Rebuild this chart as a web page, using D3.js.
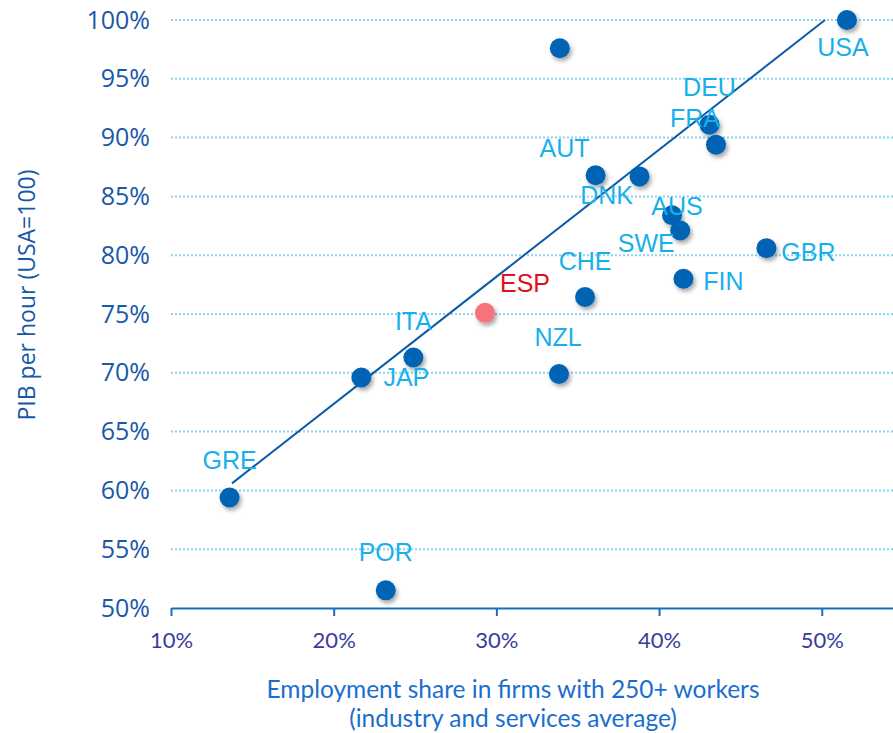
<!DOCTYPE html>
<html>
<head>
<meta charset="utf-8">
<script src="https://cdn.jsdelivr.net/npm/d3@7"></script>
<style>
  body { margin: 0; background: #fff; }
  svg { display: block; }
</style>
</head>
<body>
<div id="chart"></div>
<script>
// countries, employment share in big firms (%), productivity (USA=100)
const countries = ["USA", "—", "DEU", "FRA", "AUT", "DNK", "AUS", "SWE", "GBR", "FIN", "CHE", "ESP", "ITA", "JAP", "NZL", "GRE", "POR"]
const share     = [51.55, 33.9, 43.1, 43.5, 36.1, 38.8, 40.8, 41.3, 46.6, 41.5, 35.45, 29.3, 24.9, 21.7, 33.85, 13.6, 23.2]
const pib       = [100, 97.6, 91.1, 89.4, 86.8, 86.7, 83.4, 82.1, 80.6, 78.0, 76.45, 75.1, 71.3, 69.6, 69.9, 59.4, 51.5]

// fitted line, two ends
const trendX = [13.75, 50.2]
const trendY = [60.6, 100]

const xTicks = [10, 20, 30, 40, 50]
const yTicks = [50, 55, 60, 65, 70, 75, 80, 85, 90, 95, 100]

// where each label sits relative to its dot
const labelOffset = {
  USA: [-4, 27], DEU: [0, -38], FRA: [-21, -27], AUT: [-31, -27], DNK: [-33, 19],
  AUS: [5, -9], SWE: [-34, 12], GBR: [42, 4], FIN: [40, 2], CHE: [0, -36],
  ESP: [40, -30], ITA: [0, -37], JAP: [45, -1], NZL: [-1, -37], GRE: [0, -37], POR: [0, -38]
}

const W = 893, H = 733
const svg = d3.select("#chart").append("svg").attr("width", W).attr("height", H)

const defs = svg.append("defs")
const shadow = defs.append("filter").attr("id", "shadow")
  .attr("x", "-50%").attr("y", "-50%").attr("width", "200%").attr("height", "200%")
shadow.append("feDropShadow")
  .attr("dx", 2).attr("dy", 3).attr("stdDeviation", 2)
  .attr("flood-color", "#000").attr("flood-opacity", 0.35)

const x = d3.scaleLinear().domain([10, 54.38]).range([171, 893])
const y = d3.scaleLinear().domain([50, 100]).range([608, 20])

// dotted gridlines
svg.append("g").selectAll("line")
  .data(yTicks.filter(d => d > 50))
  .join("line")
  .attr("x1", 171).attr("x2", W)
  .attr("y1", d => y(d)).attr("y2", d => y(d))
  .attr("stroke", "#86d3f2").attr("stroke-width", 2)
  .attr("stroke-dasharray", "2,2")

// x axis
const xAxis = svg.append("g")
  .attr("transform", `translate(0,${y(50)})`)
  .call(d3.axisBottom(x).tickValues(xTicks).tickFormat(d => d + "%").tickSizeInner(8).tickSizeOuter(0).tickPadding(16))
xAxis.select(".domain").attr("stroke", "#1a6cc0").attr("stroke-width", 2)
xAxis.selectAll(".tick line").attr("stroke", "#1a6cc0").attr("stroke-width", 2)
xAxis.selectAll(".tick text")
  .attr("fill", "#3b3b9b").style("font-family", "Lato, sans-serif").style("font-size", "22px")

// y axis labels only
const yAxis = svg.append("g")
  .attr("transform", "translate(171,0)")
  .call(d3.axisLeft(y).tickValues(yTicks).tickFormat(d => d + "%").tickSize(0).tickPadding(21))
yAxis.select(".domain").remove()
yAxis.selectAll(".tick text")
  .attr("fill", "#1a58a8").style("font-family", "'Open Sans', sans-serif").style("font-size", "25px")

// trend line
svg.append("line")
  .attr("x1", x(trendX[0])).attr("y1", y(trendY[0]))
  .attr("x2", x(trendX[1])).attr("y2", y(trendY[1]))
  .attr("stroke", "#0a5aa8").attr("stroke-width", 2)

const pts = countries.map((c, i) => ({c, x: share[i], y: pib[i]}))

svg.append("g").selectAll("circle")
  .data(pts)
  .join("circle")
  .attr("cx", d => x(d.x)).attr("cy", d => y(d.y)).attr("r", 10)
  .attr("fill", d => d.c == "ESP" ? "#f7727a" : "#0563b4")
  .attr("filter", "url(#shadow)")

svg.append("g").selectAll("text")
  .data(pts.filter(d => labelOffset[d.c]))
  .join("text")
  .attr("x", d => x(d.x) + labelOffset[d.c][0])
  .attr("y", d => y(d.y) + labelOffset[d.c][1])
  .attr("text-anchor", "middle").attr("dominant-baseline", "central")
  .attr("fill", d => d.c == "ESP" ? "#e0101c" : "#18b0ea")
  .style("font-family", "'Liberation Sans', Arial, sans-serif").style("font-size", "25px")
  .text(d => d.c)

// axis titles
const xt = svg.append("text")
  .attr("x", 513).attr("text-anchor", "middle")
  .attr("fill", "#1a6ecf").style("font-family", "Lato, sans-serif").style("font-size", "24.5px")
xt.append("tspan").attr("x", 513).attr("y", 698).text("Employment share in firms with 250+ workers")
xt.append("tspan").attr("x", 513).attr("y", 727).text("(industry and services average)")

svg.append("text")
  .attr("transform", "translate(35,295) rotate(-90)")
  .attr("text-anchor", "middle")
  .attr("fill", "#1557a8").style("font-family", "'Open Sans', sans-serif").style("font-size", "23px")
  .style("font-weight", 500)
  .text("PIB per hour (USA=100)")
</script>
</body>
</html>
